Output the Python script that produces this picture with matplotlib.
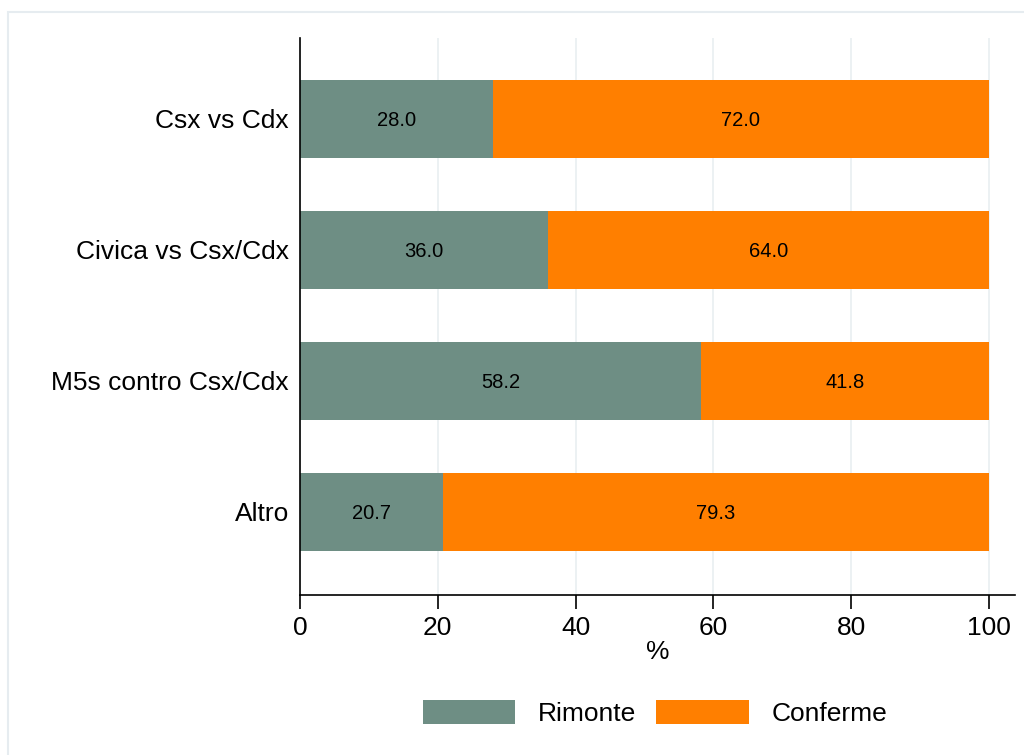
import matplotlib.pyplot as plt
from matplotlib.patches import Rectangle

plt.rcParams['font.family'] = ['Liberation Sans', 'DejaVu Sans']

categories = ['Csx vs Cdx', 'Civica vs Csx/Cdx', 'M5s contro Csx/Cdx', 'Altro']
rimonte = [28.0, 36.0, 58.2, 20.7]
conferme = [72.0, 64.0, 41.8, 79.3]
series_names = ['Rimonte', 'Conferme']
xticks = [0, 20, 40, 60, 80, 100]

green = '#6e8e84'
orange = '#ff7f00'

fig = plt.figure(figsize=(10.24, 7.55), dpi=100)
fig.patches.append(Rectangle((8 / 1024, -0.01), 1.1, 1 - 12 / 755 + 0.01,
                             transform=fig.transFigure, fill=False,
                             edgecolor='#e6ecf0', linewidth=1.5))
ax = fig.add_axes([300 / 1024, 1 - 595 / 755, 715 / 1024, 557 / 755])

ypos = list(range(len(categories)))[::-1]
b1 = ax.barh(ypos, rimonte, height=0.6, color=green, label=series_names[0], zorder=2)
b2 = ax.barh(ypos, conferme, left=rimonte, height=0.6, color=orange,
             label=series_names[1], zorder=2)
for y, r, c in zip(ypos, rimonte, conferme):
    ax.text(r / 2, y - 0.015, f'{r:.1f}', ha='center', va='center', fontsize=14.5, zorder=3)
    ax.text(r + c / 2, y - 0.015, f'{c:.1f}', ha='center', va='center', fontsize=14.5, zorder=3)

ax.set_xlim(0, 103.8)
ax.set_ylim(-0.634, 3.618)
ax.set_xticks(xticks)
ax.set_xticklabels([str(t) for t in xticks], fontsize=19)
ax.set_yticks(ypos)
ax.set_yticklabels(categories, fontsize=19)
ax.tick_params(axis='y', length=0, pad=8)
ax.tick_params(axis='x', length=10, width=1.2, pad=5)
ax.grid(axis='x', color='#eaf0f2', linewidth=1.3, zorder=0)
ax.set_axisbelow(True)
for s in ['top', 'right']:
    ax.spines[s].set_visible(False)
ax.spines['left'].set_linewidth(1.2)
ax.spines['bottom'].set_linewidth(1.2)
ax.set_xlabel('%', fontsize=19, labelpad=0)

fig.legend(handles=[b1, b2], labels=series_names, loc='center',
           bbox_to_anchor=(655 / 1024, 1 - 713 / 755), ncol=2, frameon=False,
           fontsize=19, handlelength=3.5, handleheight=1.0, handletextpad=0.87,
           columnspacing=0.75)

fig.savefig('out.png', dpi=100)
